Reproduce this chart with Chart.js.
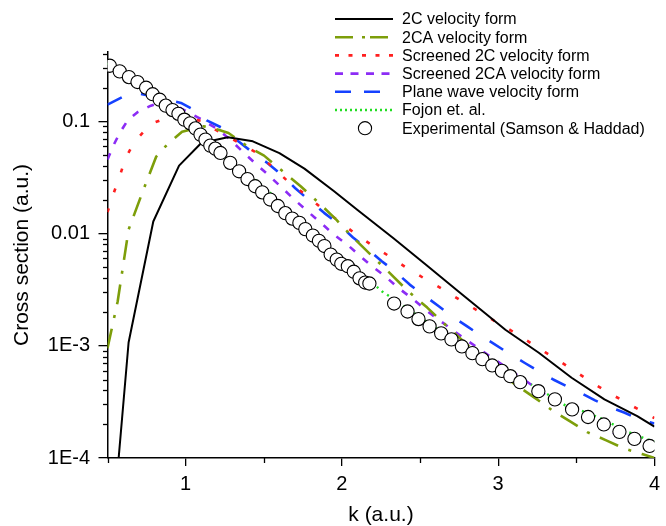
<!DOCTYPE html>
<html>
<head>
<meta charset="utf-8">
<script src="https://cdn.jsdelivr.net/npm/chart.js@4/dist/chart.umd.min.js"></script>
<style>
html,body{margin:0;padding:0;background:#fff;}
canvas{display:block;}
</style>
</head>
<body>
<canvas id="c" width="666" height="526"></canvas>
<script>
// ---- data ----
const k2C = [0.55, 0.635, 0.793, 0.958, 1.10, 1.27, 1.43, 1.60, 1.76, 1.95, 2.10, 2.33, 2.54, 2.75, 2.96, 3.046, 3.26, 3.47, 3.68, 3.89, 4.0];
const s2C = [4.5e-5, 1.07e-3, 0.0128, 0.0403, 0.0642, 0.0723, 0.0664, 0.0521, 0.0379, 0.0238, 0.0162, 9.08e-3, 5.24e-3, 3.02e-3, 1.74e-3, 1.39e-3, 8.67e-4, 5.19e-4, 3.33e-4, 2.36e-4, 1.90e-4];

const k2CA = [0.5, 0.565, 0.635, 0.723, 0.812, 0.882, 0.977, 1.116, 1.21, 1.274, 1.394, 1.502, 1.616, 1.736, 1.85, 1.964, 2.053, 2.19, 2.31, 2.424, 2.546, 2.654, 2.777, 2.924, 3.046, 3.23, 3.348, 3.463, 3.57, 3.695, 3.81, 3.926, 4.0];
const s2CA = [9.5e-4, 2.48e-3, 0.01086, 0.0232, 0.0486, 0.0621, 0.0809, 0.0902, 0.0843, 0.0788, 0.0599, 0.0495, 0.0364, 0.0264, 0.0189, 0.0133, 9.8e-3, 6.37e-3, 4.40e-3, 3.06e-3, 2.19e-3, 1.58e-3, 1.10e-3, 7.30e-4, 5.22e-4, 3.47e-4, 2.65e-4, 2.11e-4, 1.70e-4, 1.43e-4, 1.21e-4, 1.08e-4, 1.0e-4];

const kS2C = [0.5, 0.54, 0.578, 0.616, 0.673, 0.778, 0.884, 0.996, 1.116, 1.19, 1.325, 1.464, 1.654, 1.768, 1.875, 1.981, 2.092, 2.203, 2.308, 2.42, 2.529, 2.641, 2.751, 2.86, 2.968, 3.078, 3.19, 3.30, 3.409, 3.515, 3.627, 3.738, 3.848, 3.958, 4.0];
const sS2C = [0.0155, 0.0230, 0.0324, 0.0472, 0.0659, 0.0950, 0.108, 0.1067, 0.100, 0.0843, 0.0664, 0.0515, 0.0292, 0.0222, 0.0166, 0.0129, 9.8e-3, 7.71e-3, 6.21e-3, 4.88e-3, 3.97e-3, 3.22e-3, 2.58e-3, 2.09e-3, 1.69e-3, 1.38e-3, 1.10e-3, 8.77e-4, 7.06e-4, 5.64e-4, 4.46e-4, 3.61e-4, 2.96e-4, 2.44e-4, 2.27e-4];

const kS2CA = [0.5, 0.535, 0.578, 0.63, 0.694, 0.778, 0.85, 0.92, 1.02, 1.105, 1.21, 1.285, 1.369, 1.443, 1.527, 1.611, 1.696, 1.78, 1.865, 1.949, 2.034, 2.118, 2.192, 2.276, 2.361, 2.445, 2.529, 2.603, 2.692, 2.776, 2.861, 2.945, 3.025, 3.194, 3.363, 3.578, 3.78, 4.0];
const sS2CA = [0.0456, 0.0599, 0.0788, 0.1025, 0.121, 0.138, 0.148, 0.142, 0.120, 0.1035, 0.0843, 0.0687, 0.0530, 0.0426, 0.0335, 0.0260, 0.0201, 0.0158, 0.01246, 9.79e-3, 7.98e-3, 6.28e-3, 5.12e-3, 4.17e-3, 3.28e-3, 2.67e-3, 2.13e-3, 1.77e-3, 1.44e-3, 1.18e-3, 9.79e-4, 8.07e-4, 6.81e-4, 4.68e-4, 3.19e-4, 2.21e-4, 1.56e-4, 1.12e-4];

const kPW = [0.5, 0.603, 0.685, 0.831, 0.97, 1.053, 1.135, 1.23, 1.337, 1.42, 1.523, 1.608, 1.70, 1.785, 1.886, 1.97, 2.071, 2.154, 2.255, 2.339, 2.434, 2.519, 2.62, 2.704, 2.804, 2.888, 3.046, 3.168, 3.257, 3.352, 3.437, 3.535, 3.62, 3.725, 3.81, 3.90, 4.0];
const sPW = [0.141, 0.167, 0.179, 0.1625, 0.146, 0.127, 0.102, 0.0879, 0.0664, 0.0540, 0.0426, 0.0340, 0.0255, 0.0201, 0.0153, 0.01245, 9.24e-3, 7.46e-3, 5.67e-3, 4.61e-3, 3.51e-3, 2.86e-3, 2.25e-3, 1.84e-3, 1.48e-3, 1.24e-3, 8.95e-4, 7.06e-4, 5.94e-4, 5.01e-4, 4.37e-4, 3.76e-4, 3.26e-4, 2.81e-4, 2.53e-4, 2.21e-4, 2.03e-4];

const kFo = [0.5, 0.6, 0.8, 1.0, 1.1, 1.253, 1.443, 1.538, 1.7, 1.928, 2.149, 2.219, 2.255, 2.297, 2.5, 2.74, 3.0, 3.19, 3.318, 3.437, 3.54, 3.658, 3.837, 3.951, 4.0];
const sFo = [0.33, 0.26, 0.17, 0.103, 0.074, 0.0463, 0.0303, 0.0233, 0.0135, 7.46e-3, 4.04e-3, 3.40e-3, 3.06e-3, 2.80e-3, 1.80e-3, 1.06e-3, 6.5e-4, 4.71e-4, 3.68e-4, 2.90e-4, 2.62e-4, 2.25e-4, 1.70e-4, 1.47e-4, 1.40e-4];

const kExp = [0.515, 0.578, 0.637, 0.692, 0.747, 0.789, 0.834, 0.873, 0.916, 0.954, 0.992, 1.029, 1.063, 1.095, 1.127, 1.158, 1.19, 1.223, 1.285, 1.342, 1.396, 1.445, 1.49, 1.541, 1.59, 1.638, 1.682, 1.728, 1.766, 1.814, 1.853, 1.888, 1.928, 1.967, 1.996, 2.038, 2.076, 2.113, 2.149, 2.176, 2.334, 2.42, 2.49, 2.561, 2.635, 2.701, 2.768, 2.835, 2.899, 2.962, 3.024, 3.078, 3.141, 3.257, 3.363, 3.473, 3.575, 3.676, 3.776, 3.872, 3.969];
const sExp = [0.313, 0.279, 0.248, 0.224, 0.1995, 0.1746, 0.156, 0.138, 0.126, 0.1167, 0.1035, 0.096, 0.0865, 0.0762, 0.0687, 0.0608, 0.0571, 0.0523, 0.0427, 0.0359, 0.0306, 0.0264, 0.0233, 0.0201, 0.0176, 0.0152, 0.0136, 0.01245, 0.01096, 9.6e-3, 8.62e-3, 7.74e-3, 6.50e-3, 5.86e-3, 5.38e-3, 5.12e-3, 4.57e-3, 3.99e-3, 3.66e-3, 3.59e-3, 2.38e-3, 2.02e-3, 1.73e-3, 1.49e-3, 1.29e-3, 1.14e-3, 9.86e-4, 8.60e-4, 7.60e-4, 6.68e-4, 5.97e-4, 5.36e-4, 4.74e-4, 3.94e-4, 3.33e-4, 2.71e-4, 2.32e-4, 1.99e-4, 1.71e-4, 1.48e-4, 1.28e-4];

const xTicks = [1, 2, 3, 4];
const xMinorTicks = [0.5, 1.5, 2.5, 3.5];
const yTicks = [1e-4, 1e-3, 0.01, 0.1];
const yTickLabels = ['1E-4', '1E-3', '0.01', '0.1'];
const seriesNames = ['2C velocity form', '2CA velocity form', 'Screened 2C velocity form', 'Screened 2CA velocity form', 'Plane wave velocity form', 'Fojon et. al.', 'Experimental (Samson & Haddad)'];

const pts = (ks, vs) => ks.map((k, i) => ({x: k, y: vs[i]}));
const FONT = 'Liberation Sans, Arial, Helvetica, sans-serif';

function lineDs(label, ks, vs, color, dash, width, legendDash) {
  return {label, data: pts(ks, vs), borderColor: color, backgroundColor: color, borderWidth: width,
    borderDash: dash, legendDash: legendDash, pointRadius: 0, fill: false, tension: 0, order: 1,
    borderCapStyle: 'butt', borderJoinStyle: 'round'};
}

const datasets = [
  lineDs(seriesNames[0], k2C, s2C, '#000000', [], 2, []),
  lineDs(seriesNames[1], k2CA, s2CA, '#7d9e0a', [20, 11, 3, 11], 2.6, [18, 9, 3, 5]),
  lineDs(seriesNames[2], kS2C, sS2C, '#ff1f1f', [4, 17], 2.6, [4, 9.5]),
  lineDs(seriesNames[3], kS2CA, sS2CA, '#8c2cf5', [7, 10], 2.6, [8, 7.5]),
  lineDs(seriesNames[4], kPW, sPW, '#1541ff', [16, 20], 2.6, [16, 13]),
  lineDs(seriesNames[5], kFo, sFo, '#22dd22', [2, 4.5], 2.4, [2, 3]),
  {label: seriesNames[6], data: pts(kExp, sExp), showLine: false, pointRadius: 6.6, pointBorderWidth: 1.1,
   pointBackgroundColor: '#ffffff', pointBorderColor: '#000000', borderColor: '#000000', backgroundColor: '#ffffff', order: 0}
];

const minorTicksPlugin = {
  id: 'minorTicks',
  afterDraw(chart) {
    const c = chart.ctx, xs = chart.scales.x, ys = chart.scales.y, a = chart.chartArea;
    c.save();
    c.strokeStyle = '#000'; c.lineWidth = 1.3;
    for (let d = -4; d <= -1; d++) {
      for (let m = 2; m <= 9; m++) {
        const v = m * Math.pow(10, d);
        if (v > ys.max) continue;
        const y = Math.round(ys.getPixelForValue(v)) + 0.5;
        c.beginPath(); c.moveTo(a.left - 4.5, y); c.lineTo(a.left, y); c.stroke();
      }
    }
    xMinorTicks.forEach(v => {
      const x = Math.round(xs.getPixelForValue(v)) + 0.5;
      c.beginPath(); c.moveTo(x, a.bottom); c.lineTo(x, a.bottom + 5); c.stroke();
    });
    c.restore();
  }
};

const legendPlugin = {
  id: 'customLegend',
  afterDraw(chart) {
    const c = chart.ctx;
    const x0 = 335, x1 = 393, tx = 402, y0 = 19, dy = 18.2;
    c.save();
    c.font = '16px ' + FONT;
    c.textBaseline = 'middle';
    c.textAlign = 'left';
    chart.data.datasets.forEach((ds, i) => {
      const y = y0 + i * dy;
      if (ds.showLine === false) {
        c.beginPath();
        c.arc((x0 + x1) / 2 + 1, y, 6.6, 0, Math.PI * 2);
        c.fillStyle = '#fff'; c.fill();
        c.lineWidth = 1.1; c.strokeStyle = '#000'; c.stroke();
      } else {
        c.beginPath();
        c.setLineDash(ds.legendDash || []);
        c.lineWidth = ds.borderWidth; c.strokeStyle = ds.borderColor; c.lineCap = 'butt';
        c.moveTo(x0, y); c.lineTo(x1, y); c.stroke();
        c.setLineDash([]);
      }
      c.fillStyle = '#000';
      c.fillText(ds.label, tx, y + 1);
    });
    c.restore();
  }
};

new Chart(document.getElementById('c'), {
  type: 'line',
  data: {datasets},
  options: {
    responsive: false,
    animation: false,
    events: [],
    layout: {padding: {top: 52, right: 6, left: 0, bottom: 0}, autoPadding: false},
    plugins: {legend: {display: false}, tooltip: {enabled: false}},
    scales: {
      x: {
        type: 'linear', min: 0.5, max: 4,
        afterBuildTicks: s => { s.ticks = xTicks.map(v => ({value: v})); },
        afterFit: s => { s.height = 68; },
        grid: {drawOnChartArea: false, tickLength: 8, color: '#000', lineWidth: 1.3},
        border: {color: '#000', width: 1.5},
        ticks: {font: {size: 20, family: FONT}, color: '#000', padding: 6, maxRotation: 0, autoSkip: false,
                callback: v => String(v)},
        title: {display: true, text: 'k (a.u.)', font: {size: 21, family: FONT}, color: '#000', padding: {top: 0, bottom: -2}}
      },
      y: {
        type: 'logarithmic', min: 1e-4, max: 0.415,
        afterBuildTicks: s => { s.ticks = yTicks.map(v => ({value: v})); },
        afterFit: s => { s.width = 107.5; },
        grid: {drawOnChartArea: false, tickLength: 9, color: '#000', lineWidth: 1.3},
        border: {color: '#000', width: 1.5},
        ticks: {font: {size: 20, family: FONT}, color: '#000', padding: 8.5, autoSkip: false,
                callback: (v, i) => yTickLabels[yTicks.indexOf(v)] ?? yTickLabels[i]},
        title: {display: true, text: 'Cross section (a.u.)', font: {size: 21, family: FONT}, color: '#000', padding: {top: 9.5, bottom: 0}}
      }
    }
  },
  plugins: [minorTicksPlugin, legendPlugin]
});
</script>
</body>
</html>
